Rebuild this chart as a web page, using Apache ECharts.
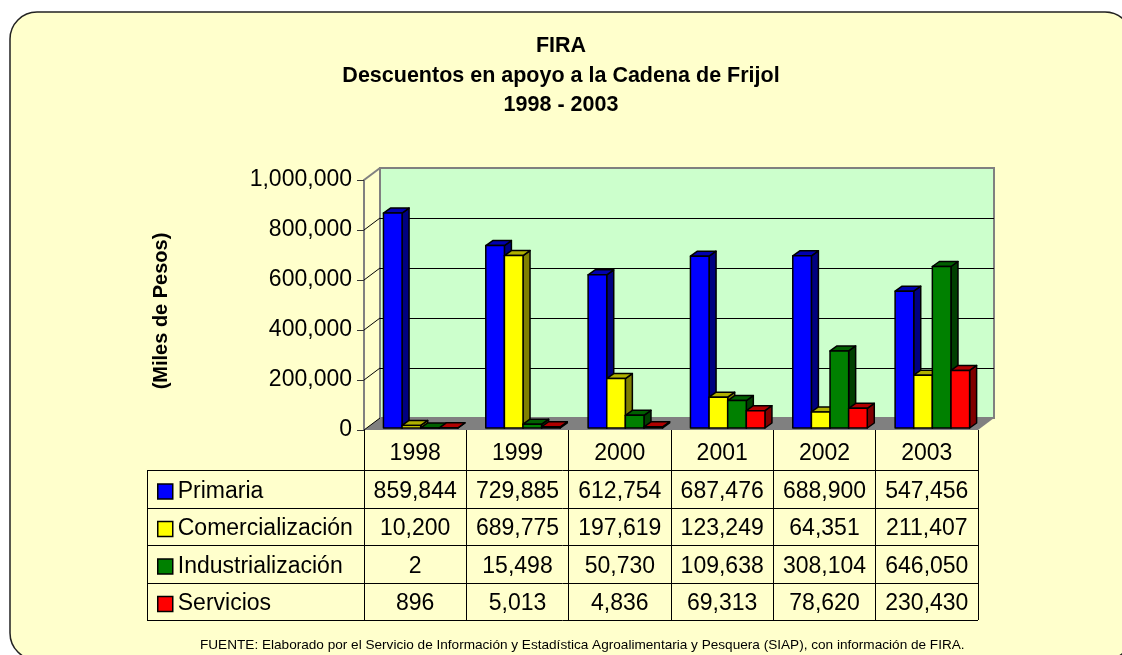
<!DOCTYPE html>
<html>
<head>
<meta charset="utf-8">
<script src="https://cdn.jsdelivr.net/npm/echarts@6/dist/echarts.min.js"></script>
<style>
html, body { margin: 0; padding: 0; background: #fff; }
#chart { width: 1122px; height: 655px; }
</style>
</head>
<body>
<div id="chart"></div>
<script>
// datos (miles de pesos)
var years = ['1998', '1999', '2000', '2001', '2002', '2003'];
var primaria = [859844, 729885, 612754, 687476, 688900, 547456];
var comercializacion = [10200, 689775, 197619, 123249, 64351, 211407];
var industrializacion = [2, 15498, 50730, 109638, 308104, 646050];
var servicios = [896, 5013, 4836, 69313, 78620, 230430];
var yTicks = [0, 200000, 400000, 600000, 800000, 1000000];

var seriesNames = ['Primaria', 'Comercialización', 'Industrialización', 'Servicios'];
var seriesValues = [primaria, comercializacion, industrializacion, servicios];
var frontColors = ['#0000FF', '#FFFF00', '#008000', '#FF0000'];
var sideColors = ['#000080', '#808000', '#004000', '#800000'];
var topColors = ['#0000B0', '#B0B000', '#006000', '#B00000'];

var FONT = 'Arial, "Liberation Sans", sans-serif';

// layout
var L = 364, R = 978, T = 180, B = 430;   // plano frontal
var DX = 16, DY = -12;                     // profundidad 3D
var TABLE_LEFT = 147, ROW0 = 470, ROWH = 37.5;

function fmt(n) {
	return String(n).replace(/\B(?=(\d{3})+(?!\d))/g, ',');
}

var myChart = echarts.init(document.getElementById('chart'));

// barra 3D
function barRenderer(k) {
	return function (params, api) {
		var cat = api.value(0);
		var val = api.value(1);
		var base = api.coord([cat, 0]);
		var top = api.coord([cat, val]);
		var band = api.size([1, 0])[0];
		var w = band * 0.182;
		var x0 = base[0] - band / 2 + band * 0.19 + k * w;
		var x1 = x0 + w;
		var y0 = base[1] - 2, y1 = top[1] - 2;
		var dx = 7, dy = -5;
		var stroke = { stroke: '#000', lineWidth: 1.5, lineJoin: 'round' };
		return {
			type: 'group',
			children: [
				{ type: 'polygon', shape: { points: [[x1, y0], [x1 + dx, y0 + dy], [x1 + dx, y1 + dy], [x1, y1]] },
				  style: Object.assign({ fill: sideColors[k] }, stroke) },
				{ type: 'polygon', shape: { points: [[x0, y1], [x1, y1], [x1 + dx, y1 + dy], [x0 + dx, y1 + dy]] },
				  style: Object.assign({ fill: topColors[k] }, stroke) },
				{ type: 'rect', shape: { x: x0, y: y1, width: w, height: y0 - y1 },
				  style: Object.assign({ fill: frontColors[k] }, stroke) }
			]
		};
	};
}

var series = [];
// lineas de la pared lateral
series.push({
	name: 'pared',
	type: 'custom',
	xAxisIndex: 0,
	yAxisIndex: 0,
	z: 1,
	silent: true,
	data: yTicks.map(function (v) { return [0, v]; }),
	renderItem: function (params, api) {
		var p = api.coord([0, api.value(1)]);
		var band = api.size([1, 0])[0];
		var x = p[0] - band / 2;
		var edge = api.value(1) === yTicks[yTicks.length - 1];
		return {
			type: 'line',
			shape: { x1: x, y1: p[1], x2: x + DX, y2: p[1] + DY },
			style: { stroke: edge ? '#808080' : '#000', lineWidth: edge ? 2 : 1 }
		};
	}
});
for (var k = 0; k < 4; k++) {
	series.push({
		name: seriesNames[k],
		type: 'custom',
		xAxisIndex: 0,
		yAxisIndex: 0,
		z: 3,
		itemStyle: { color: frontColors[k] },
		data: seriesValues[k].map(function (v, i) { return [i, v]; }),
		encode: { x: 0, y: 1 },
		renderItem: barRenderer(k)
	});
}

// fondo, piso y lineas de la tabla
var graphics = [
	{ type: 'rect', z: -1, silent: true,
	  shape: { x: 10, y: 12, width: 1122, height: 648, r: 27 },
	  style: { fill: '#FFFFCC', stroke: '#222', lineWidth: 1.5 } },
	{ type: 'polygon', z: 1, silent: true,
	  shape: { points: [[L, B], [R, B], [R + DX, B + DY], [L + DX, B + DY]] },
	  style: { fill: '#808080' } }
];
for (var r = 0; r < 5; r++) {
	var y = Math.round(ROW0 + r * ROWH) + 0.5;
	graphics.push({ type: 'line', z: 1, silent: true,
		shape: { x1: TABLE_LEFT, y1: y, x2: R, y2: y },
		style: { stroke: '#000', lineWidth: 1 } });
}
graphics.push({ type: 'line', z: 1, silent: true,
	shape: { x1: TABLE_LEFT + 0.5, y1: ROW0, x2: TABLE_LEFT + 0.5, y2: ROW0 + 4 * ROWH },
	style: { stroke: '#000', lineWidth: 1 } });

var titleStyle = { fontFamily: FONT, fontSize: 21.5, fontWeight: 'bold', color: '#000' };

var option = {
	backgroundColor: '#fff',
	animation: false,
	textStyle: { fontFamily: FONT },
	title: [
		{ text: 'FIRA', left: 'center', top: 35, padding: 0, textStyle: titleStyle },
		{ text: 'Descuentos en apoyo a la Cadena de Frijol', left: 'center', top: 65, padding: 0, textStyle: titleStyle },
		{ text: '1998 - 2003', left: 'center', top: 94, padding: 0, textStyle: titleStyle },
		{
			text: 'FUENTE: Elaborado por el Servicio de Información y Estadística Agroalimentaria y Pesquera (SIAP), con información de FIRA.',
			left: 200,
			top: 638,
			padding: 0,
			textStyle: { fontFamily: FONT, fontSize: 13.6, fontWeight: 'normal', color: '#000' }
		}
	],
	legend: {
		data: seriesNames,
		orient: 'vertical',
		left: 152,
		top: 475,
		icon: 'rect',
		itemWidth: 15,
		itemHeight: 15,
		itemGap: 14.5,
		itemStyle: { borderColor: '#000', borderWidth: 1.5 },
		textStyle: { fontFamily: FONT, fontSize: 23, color: '#000', lineHeight: 22.5 },
		selectedMode: false
	},
	grid: [
		{ left: L, top: T, width: R - L, height: B - T, outerBoundsMode: 'none', containLabel: false },
		{ left: L + DX, top: T + DY, width: R - L, height: B - T, outerBoundsMode: 'none', containLabel: false,
		  show: true, backgroundColor: '#CCFFCC', borderColor: '#808080', borderWidth: 2 }
	],
	xAxis: [
		{
			type: 'category',
			gridIndex: 0,
			data: years,
			axisLine: { show: false },
			axisTick: { show: true, interval: 0, length: 190, lineStyle: { color: '#000', width: 1 } },
			axisLabel: {
				interval: 0,
				margin: 5,
				fontFamily: FONT,
				fontSize: 23,
				lineHeight: 37.5,
				verticalAlign: 'top',
				color: '#000',
				formatter: function (value, idx) {
					return [value, fmt(primaria[idx]), fmt(comercializacion[idx]),
						fmt(industrializacion[idx]), fmt(servicios[idx])].join('\n');
				}
			},
			splitLine: { show: false }
		},
		{
			type: 'category',
			gridIndex: 1,
			data: years,
			show: false
		}
	],
	yAxis: [
		{
			type: 'value',
			gridIndex: 0,
			min: 0,
			max: 1000000,
			interval: 200000,
			name: '(Miles de Pesos)',
			nameLocation: 'middle',
			nameRotate: 90,
			nameGap: 193,
			nameTextStyle: { fontFamily: FONT, fontSize: 20, fontWeight: 'bold', color: '#000', padding: [0, 12, 0, 0] },
			axisLine: { show: true, lineStyle: { color: '#808080', width: 2 } },
			axisTick: { show: true, length: 7, lineStyle: { color: '#333', width: 1 } },
			axisLabel: { margin: 12, fontFamily: FONT, fontSize: 23, color: '#000',
				formatter: function (v) { return fmt(v); } },
			splitLine: { show: false }
		},
		{
			type: 'value',
			gridIndex: 1,
			min: 0,
			max: 1000000,
			interval: 200000,
			axisLine: { show: false },
			axisTick: { show: false },
			axisLabel: { show: false },
			splitLine: { show: true, lineStyle: { color: ['#808080', '#000', '#000', '#000', '#000', '#808080'], width: 1 } }
		}
	],
	graphic: graphics,
	series: series
};

myChart.setOption(option);
</script>
</body>
</html>
